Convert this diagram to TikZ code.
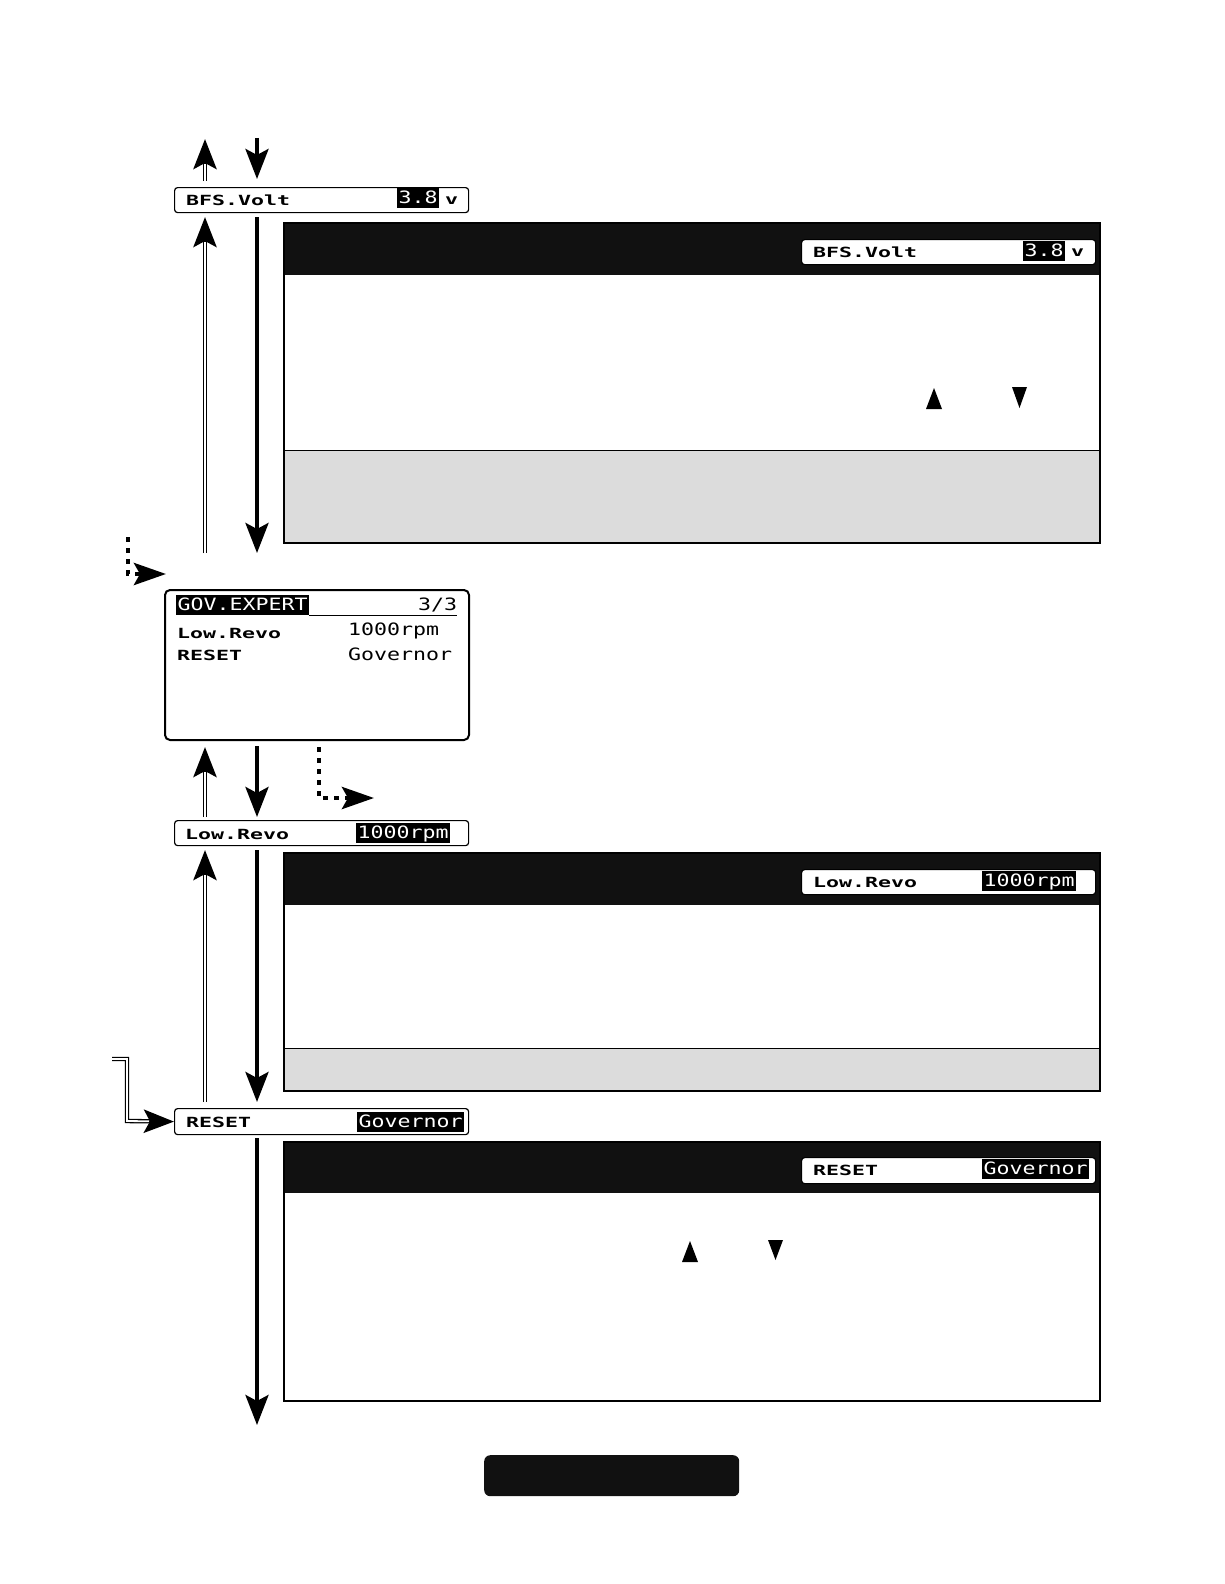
\documentclass[tikz,border=0pt]{standalone}
\usepackage{fontspec}
\newfontfamily\lcdpetit[FakeStretch=1.54]{DejaVu Sans Mono}
\newfontfamily\lcdgrand[FakeStretch=1.27]{DejaVu Sans Mono}
\usetikzlibrary{arrows.meta}
\definecolor{grisclair}{RGB}{220,220,220}
\definecolor{noirlcd}{RGB}{17,17,17}

\begin{document}
\begin{tikzpicture}[x=1pt, y=-1pt,
    cadre/.style={draw, line width=1.2pt, rounded corners=3pt, fill=white, inner sep=0pt},
    etiq/.style={anchor=west, inner sep=0pt, font=\lcdpetit\bfseries\fontsize{14}{14}\selectfont},
    valeur/.style={anchor=west, inner sep=0pt, font=\lcdgrand\fontsize{17}{17}\selectfont},
    inverse/.style={valeur, fill=black, text=white, inner xsep=1.5pt, inner ysep=2.5pt,
        text height=12.5pt, text depth=2.5pt},
    fleche/.style={line width=4pt, -{Stealth[length=30pt, width=23pt, inset=6pt]}},
    dbl/.style={line width=4.4pt, -{Stealth[length=30pt, width=23pt, inset=6pt]},
        postaction={draw=white, line width=1.8pt, -, shorten >=25pt}},
    pointe/.style={line width=4.5pt, dash pattern=on 5pt off 6pt,
        -{Stealth[length=32pt, width=22pt, inset=6pt]}}]
    \useasboundingbox (0,0) rectangle (1224,1584);

    % Panneau 1 (BFS.Volt)
    \fill[noirlcd] (284,223) rectangle (1100,275);
    \fill[grisclair] (284,450) rectangle (1100,543);
    \draw[line width=1pt] (284,450) -- (1100,450);
    \draw[line width=1.5pt] (284,223) rectangle (1100,543);
    \node[cadre, minimum width=294pt, minimum height=25pt, anchor=north west] (bfsA) at (801,239) {};
    \node[etiq] (bfsAnom) at (813,252) {BFS.Volt};
    \node[inverse] (bfsAval) at (1023,251) {3.8};
    \node[etiq] (bfsAunite) at (1071,253) {v};
    \fill (926,409) -- (934,388) -- (942,409) -- cycle;
    \fill (1012,387) -- (1027,387) -- (1019.5,408) -- cycle;

    % Panneau 2 (Low.Revo)
    \fill[noirlcd] (284,853) rectangle (1100,905);
    \fill[grisclair] (284,1048) rectangle (1100,1091);
    \draw[line width=1pt] (284,1048) -- (1100,1048);
    \draw[line width=1.5pt] (284,853) rectangle (1100,1091);
    \node[cadre, minimum width=294pt, minimum height=25pt, anchor=north west] (revoA) at (801,869) {};
    \node[etiq] (revoAnom) at (813,882) {Low.Revo};
    \node[inverse] (revoAval) at (982,881) {1000rpm};

    % Panneau 3 (RESET)
    \fill[noirlcd] (284,1142) rectangle (1100,1193);
    \draw[line width=1.5pt] (284,1142) rectangle (1100,1401);
    \node[cadre, minimum width=294pt, minimum height=26pt, anchor=north west] (rstA) at (801,1157) {};
    \node[etiq] (rstAnom) at (813,1170) {RESET};
    \node[inverse] (rstAval) at (982,1169) {Governor};
    \fill (682,1262) -- (690,1241) -- (698,1262) -- cycle;
    \fill (768,1240) -- (783,1240) -- (775.5,1260) -- cycle;

    % Lignes de réglage
    \node[cadre, minimum width=294pt, minimum height=25pt, anchor=north west] (bfs) at (174,187) {};
    \node[etiq] (bfsnom) at (186,200) {BFS.Volt};
    \node[inverse] (bfsval) at (397,198) {3.8};
    \node[etiq] (bfsunite) at (445,201) {v};

    \node[cadre, minimum width=294pt, minimum height=25pt, anchor=north west] (revo) at (174,820) {};
    \node[etiq] (revonom) at (185,834) {Low.Revo};
    \node[inverse] (revoval) at (356,833) {1000rpm};

    \node[cadre, minimum width=294pt, minimum height=26pt, anchor=north west] (rst) at (174,1108) {};
    \node[etiq] (rstnom) at (186,1122) {RESET};
    \node[inverse] (rstval) at (357,1122) {Governor};

    % Ecran GOV.EXPERT
    \node[cadre, line width=2pt, rounded corners=5pt, minimum width=304pt, minimum height=150pt,
        anchor=north west] (ecran) at (164,589) {};
    \node[inverse] (titre) at (176,605) {GOV.EXPERT};
    \node[valeur] (page) at (418,605) {3/3};
    \draw[line width=1pt] (titre.south east) -- (titre.south east -| page.east);
    \node[etiq] (l1nom) at (177,633) {Low.Revo};
    \node[valeur] (l1val) at (348,631) {1000rpm};
    \node[etiq] (l2nom) at (177,655) {RESET};
    \node[valeur] (l2val) at (348,654) {Governor};

    % Bouton
    \node[fill=noirlcd, rounded corners=6pt, minimum width=255pt, minimum height=41pt,
        anchor=north west, inner sep=0pt] (bouton) at (484,1455) {};

    % Extrémités des flèches
    \coordinate (g1b) at (205,181); \coordinate (g1h) at (205,139);
    \coordinate (d1h) at (257,138); \coordinate (d1b) at (257,179);
    \coordinate (g2b) at (205,553); \coordinate (g2h) at (205,217);
    \coordinate (d2h) at (257,217); \coordinate (d2b) at (257,553);
    \coordinate (g3b) at (205,817); \coordinate (g3h) at (205,747);
    \coordinate (d3h) at (257,746); \coordinate (d3b) at (257,817);
    \coordinate (g4b) at (205,1102); \coordinate (g4h) at (205,850);
    \coordinate (d4h) at (257,850); \coordinate (d4b) at (257,1102);
    \coordinate (d5h) at (257,1138); \coordinate (d5b) at (257,1425);

    % Flèches
    \foreach \n in {1,2,3,4} {
        \draw[dbl] (g\n b) -- (g\n h);
        \draw[fleche] (d\n h) -- (d\n b);
    }
    \draw[fleche] (d5h) -- (d5b);

    % Flèches pointillées
    \coordinate (p1) at (128,537);
    \coordinate (p1f) at (166,574);
    \draw[pointe] (p1) |- (p1f);
    \coordinate (p2) at (319,747);
    \coordinate (p2f) at (374,798);
    \draw[pointe] (p2) |- (p2f);

    % Retour vers RESET
    \coordinate (r1) at (112,1059);
    \draw[dbl] (r1) -| (127,1121) -- (rst.west);
\end{tikzpicture}
\end{document}
